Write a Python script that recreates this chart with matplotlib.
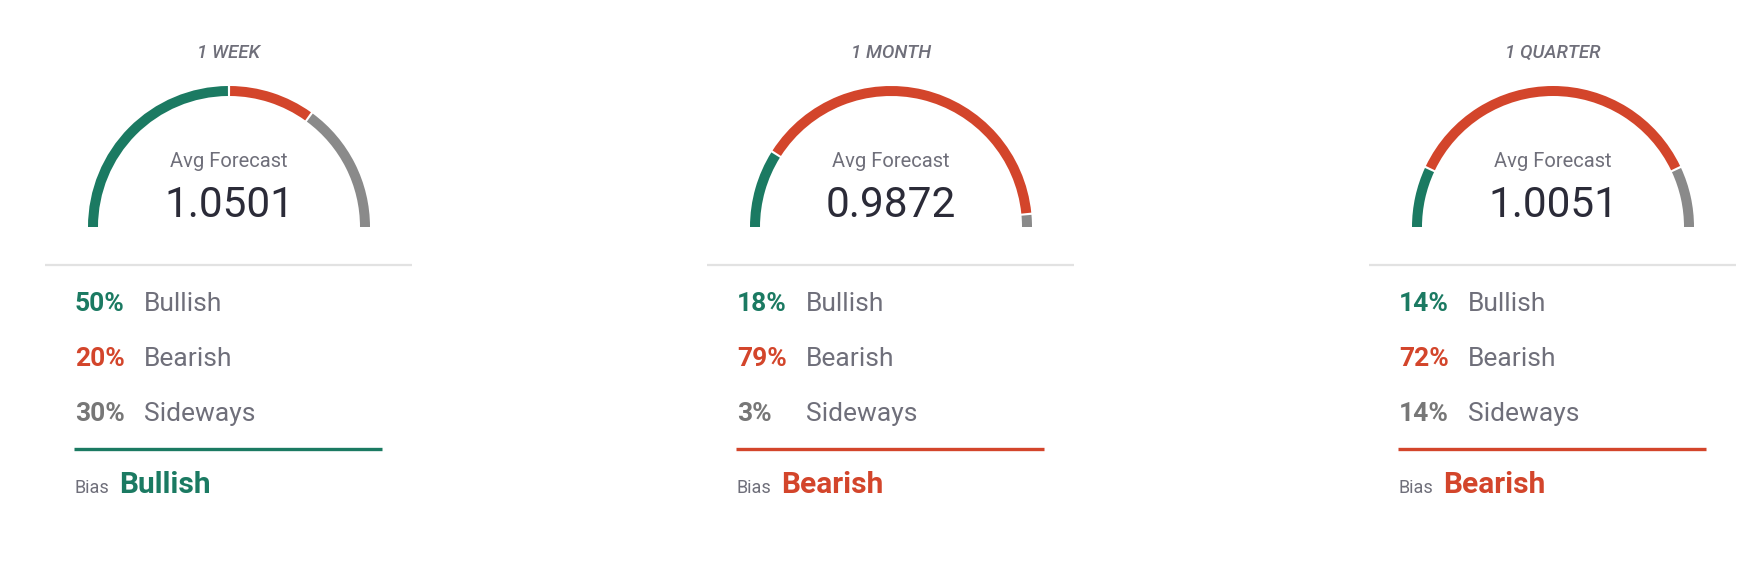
import matplotlib
matplotlib.use("Agg")
import matplotlib.pyplot as plt
from matplotlib.patches import Wedge

plt.rcParams['font.family'] = ['Roboto', 'DejaVu Sans']

# data
periods = ['1 WEEK', '1 MONTH', '1 QUARTER']
avg_forecast = ['1.0501', '0.9872', '1.0051']
bullish = [50, 18, 14]
bearish = [20, 79, 72]
sideways = [30, 3, 14]
bias = ['Bullish', 'Bearish', 'Bearish']

GREEN = '#1b7a62'
RED = '#d3452b'
GREY = '#8a8a8a'
TXT = '#6f6f7a'
DARK = '#2b2b38'

fig = plt.figure(figsize=(17.58, 5.72), dpi=100)
ax = fig.add_axes([0, 0, 1, 1])
ax.set_xlim(0, 1758)
ax.set_ylim(572, 0)
ax.axis('off')

centers = [229, 891, 1553]
R = 141
W = 10
gap = 0.9

for i, cx in enumerate(centers):
    cy = 227
    # gauge
    segs = [(bullish[i], GREEN), (bearish[i], RED), (sideways[i], GREY)]
    tot = sum(s[0] for s in segs)
    start = 180.0
    for k, (v, c) in enumerate(segs):
        span = 180.0 * v / tot
        t1 = start + (gap / 2 if k > 0 else 0)
        t2 = start + span - (gap / 2 if k < 2 else 0)
        if t2 > t1:
            ax.add_patch(Wedge((cx, cy), R, t1, t2, width=W, color=c, lw=0))
        start += span

    ax.text(cx, 58, periods[i], ha='center', va='baseline', fontsize=13.5,
            style='italic', fontweight='medium', color=TXT)
    ax.text(cx, 167, 'Avg Forecast', ha='center', va='baseline', fontsize=14.5, color=TXT)
    ax.text(cx, 217, avg_forecast[i], ha='center', va='baseline', fontsize=30.5, color=DARK)

    ax.plot([cx - 184, cx + 183], [265, 265], color='#e2e2e2', lw=1.6, solid_capstyle='butt')

    rows = [(bullish[i], 'Bullish', GREEN), (bearish[i], 'Bearish', RED),
            (sideways[i], 'Sideways', '#777777')]
    for j, (p, lab, c) in enumerate(rows):
        y = 311 + 55 * j
        ax.text(cx - 154, y, f'{p}%', ha='left', va='baseline', fontsize=19,
                fontweight='bold', color=c)
        ax.text(cx - 85, y, lab, ha='left', va='baseline', fontsize=19, color=TXT)

    bc = GREEN if bias[i] == 'Bullish' else RED
    ax.plot([cx - 155, cx + 153], [449, 449], color=bc, lw=2.4, solid_capstyle='butt')
    ax.text(cx - 154, 493, 'Bias', ha='left', va='baseline', fontsize=13, color=TXT)
    ax.text(cx - 110, 493, bias[i], ha='left', va='baseline', fontsize=21.5,
            fontweight='bold', color=bc)

fig.savefig('out.png', dpi=100, facecolor='white')
